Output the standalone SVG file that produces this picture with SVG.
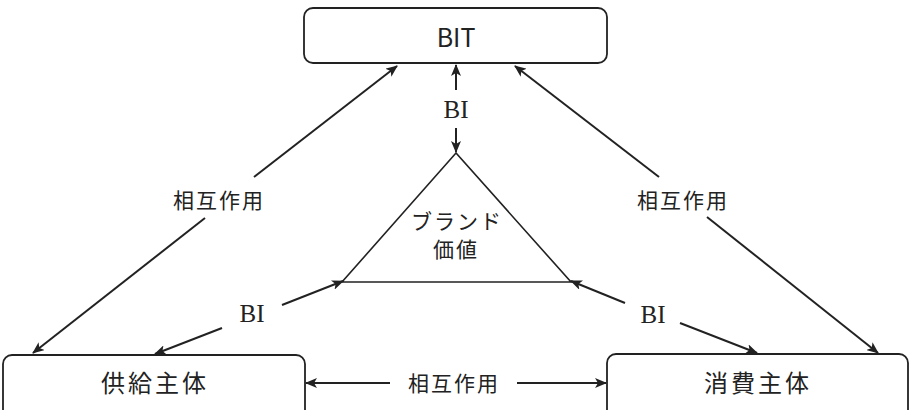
<svg xmlns="http://www.w3.org/2000/svg" width="911" height="410" viewBox="0 0 911 410">
<style>
.box{fill:#fff;stroke:#222;stroke-width:1.8}
.tri{fill:none;stroke:#222;stroke-width:1.6}
.ln{fill:none;stroke:#222;stroke-width:2}
.sans{font-family:"Noto Sans CJK JP","Noto Sans",sans-serif;fill:#222;text-anchor:middle}
.serif{font-family:"Liberation Serif","DejaVu Serif",serif;fill:#222;text-anchor:middle;font-size:25px}
.lbl{font-size:21px;letter-spacing:2px}
</style>
<defs>
<marker id="ah" markerUnits="userSpaceOnUse" markerWidth="12" markerHeight="10" refX="11" refY="5" orient="auto">
<path d="M0,0 L12,5 L0,10 L3,5 Z" fill="#222"/>
</marker>
</defs>
<rect width="911" height="410" fill="#fff"/>
<g id="bit">
<rect class="box" x="304" y="8" width="303" height="55" rx="9"/>
<text class="sans" x="456" y="47" font-size="25">BIT</text>
</g>
<g id="supply">
<rect class="box" x="3" y="355" width="302" height="70" rx="9"/>
<text class="sans" x="155" y="392" font-size="24" letter-spacing="3">供給主体</text>
</g>
<g id="consume">
<rect class="box" x="607" y="354" width="301" height="70" rx="9"/>
<text class="sans" x="758" y="392" font-size="24" letter-spacing="3">消費主体</text>
</g>
<g id="brand">
<polygon class="tri" points="456,153 342,282 571,282"/>
<text class="sans" x="457" y="229" font-size="21" letter-spacing="2">ブランド</text>
<text class="sans" x="456" y="257" font-size="21" letter-spacing="2">価値</text>
</g>
<g id="connectors">
<line class="ln" x1="456" y1="90" x2="456" y2="65" marker-end="url(#ah)"/>
<line class="ln" x1="456" y1="128" x2="456" y2="152" marker-end="url(#ah)"/>
<text class="serif" x="456" y="118">BI</text>
<line class="ln" x1="254" y1="177" x2="397" y2="66" marker-end="url(#ah)"/>
<line class="ln" x1="205" y1="218" x2="33" y2="353" marker-end="url(#ah)"/>
<text class="sans lbl" x="219" y="208">相互作用</text>
<line class="ln" x1="659" y1="177" x2="515" y2="66" marker-end="url(#ah)"/>
<line class="ln" x1="707" y1="217" x2="878" y2="353" marker-end="url(#ah)"/>
<text class="sans lbl" x="683" y="208">相互作用</text>
<line class="ln" x1="282" y1="305" x2="343" y2="281" marker-end="url(#ah)"/>
<line class="ln" x1="222" y1="328" x2="155" y2="354" marker-end="url(#ah)"/>
<text class="serif" x="252" y="322">BI</text>
<line class="ln" x1="625" y1="303" x2="571" y2="281" marker-end="url(#ah)"/>
<line class="ln" x1="680" y1="323" x2="757" y2="353" marker-end="url(#ah)"/>
<text class="serif" x="653" y="323">BI</text>
<line class="ln" x1="390" y1="383" x2="306" y2="383" marker-end="url(#ah)"/>
<line class="ln" x1="517" y1="383" x2="606" y2="383" marker-end="url(#ah)"/>
<text class="sans lbl" x="454" y="391">相互作用</text>
</g>
</svg>
